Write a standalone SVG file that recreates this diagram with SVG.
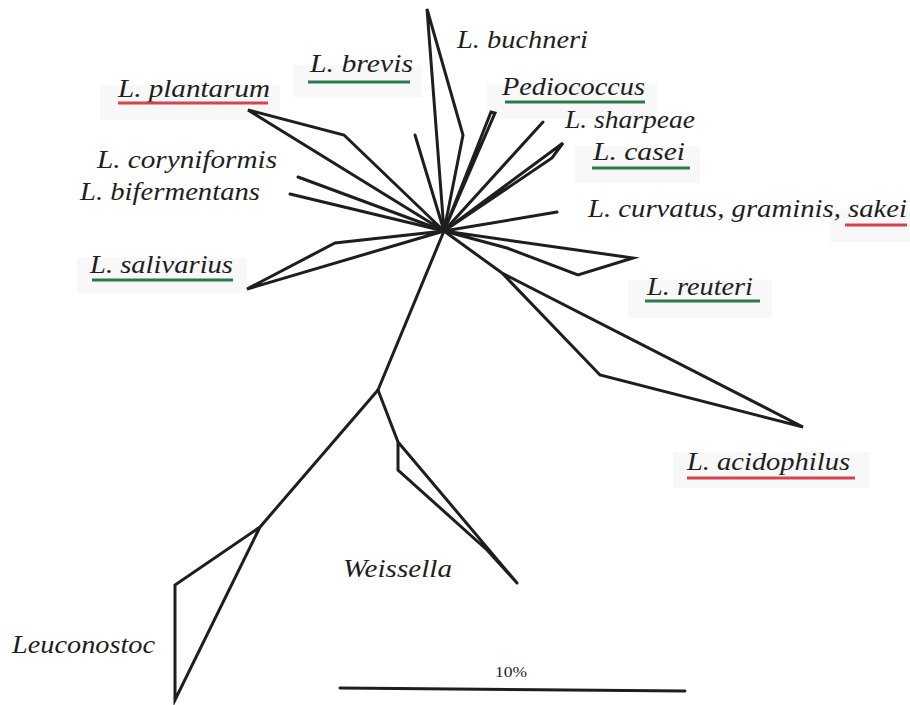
<svg xmlns="http://www.w3.org/2000/svg" width="910" height="705" viewBox="0 0 910 705">
<style>
.bg{fill:#f7f8f7;stroke:none}
.lbl{font-family:"Liberation Serif","Times New Roman",serif;font-style:italic;font-size:26px;fill:#1e1e1e}
.scale{font-family:"Liberation Serif","Times New Roman",serif;font-size:15px;fill:#1e1e1e}
.br{fill:none;stroke:#1e1e1e;stroke-width:3;stroke-linejoin:miter;stroke-miterlimit:6;stroke-linecap:round}
.ug{stroke:#2a7a4e;stroke-width:3}
.ur{stroke:#d8424d;stroke-width:3}
</style>
<rect width="910" height="705" fill="#ffffff"/>
<g id="highlights">
<rect class="bg" x="293" y="65" width="129" height="32"/>
<rect class="bg" x="100" y="85" width="180" height="35"/>
<rect class="bg" x="487" y="84" width="170" height="35"/>
<rect class="bg" x="575" y="146" width="125" height="37"/>
<rect class="bg" x="77" y="258" width="170" height="35"/>
<rect class="bg" x="830" y="210" width="80" height="32"/>
<rect class="bg" x="628" y="280" width="144" height="38"/>
<rect class="bg" x="673" y="452" width="197" height="36"/>
</g>
<g id="connectors">
<path class="br" d="M444,231 L427,9 L463,135 Z"/>
<path class="br" d="M444,231 L415,135"/>
<path class="br" d="M444,231 L491,112 L495,113 Z"/>
<path class="br" d="M444,231 L543,122"/>
<path class="br" d="M444,231 L563,143 L552,158 Z"/>
<path class="br" d="M444,231 L557,212"/>
<path class="br" d="M444,231 L633,258 L578,275 L507,248 Z"/>
<path class="br" d="M444,231 L502,273 L803,427 L600,375 L502,273"/>
<path class="br" d="M248,110 L344,135 L444,231 Z"/>
<path class="br" d="M298,177 L444,231"/>
<path class="br" d="M290,194 L444,231"/>
<path class="br" d="M247,289 L335,243 L444,231 Z"/>
<path class="br" d="M444,231 L378,390"/>
<path class="br" d="M378,390 L260,527 L175,585 L175,700 L260,527"/>
<path class="br" d="M378,390 L398,442 L517,583 M398,442 L398,470 L487,550 L517,583"/>
<path class="br" d="M340,688 L685,691"/>
</g>
<g id="n-buchneri"><text class="lbl" x="457" y="48" textLength="131" lengthAdjust="spacingAndGlyphs">L. buchneri</text></g>
<g id="n-brevis"><text class="lbl" x="310" y="72" textLength="103" lengthAdjust="spacingAndGlyphs">L. brevis</text><line class="ug" x1="308" y1="82" x2="410" y2="82"/></g>
<g id="n-plantarum"><text class="lbl" x="118" y="97" textLength="152" lengthAdjust="spacingAndGlyphs">L. plantarum</text><line class="ur" x1="118" y1="103" x2="268" y2="103"/></g>
<g id="n-pediococcus"><text class="lbl" x="502" y="95" textLength="143" lengthAdjust="spacingAndGlyphs">Pediococcus</text><line class="ug" x1="505" y1="102" x2="645" y2="102"/></g>
<g id="n-sharpeae"><text class="lbl" x="565" y="128" textLength="130" lengthAdjust="spacingAndGlyphs">L. sharpeae</text></g>
<g id="n-casei"><text class="lbl" x="593" y="160" textLength="92" lengthAdjust="spacingAndGlyphs">L. casei</text><line class="ug" x1="592" y1="168" x2="690" y2="168"/></g>
<g id="n-coryniformis"><text class="lbl" x="97" y="168" textLength="180" lengthAdjust="spacingAndGlyphs">L. coryniformis</text></g>
<g id="n-bifermentans"><text class="lbl" x="80" y="200" textLength="180" lengthAdjust="spacingAndGlyphs">L. bifermentans</text></g>
<g id="n-salivarius"><text class="lbl" x="90" y="273" textLength="143" lengthAdjust="spacingAndGlyphs">L. salivarius</text><line class="ug" x1="92" y1="280" x2="233" y2="280"/></g>
<g id="n-curvatus"><text class="lbl" x="588" y="217" textLength="319" lengthAdjust="spacingAndGlyphs">L. curvatus, graminis, sakei</text><line class="ur" x1="845" y1="225" x2="907" y2="225"/></g>
<g id="n-reuteri"><text class="lbl" x="647" y="295" textLength="106" lengthAdjust="spacingAndGlyphs">L. reuteri</text><line class="ug" x1="645" y1="301" x2="760" y2="301"/></g>
<g id="n-acidophilus"><text class="lbl" x="687" y="470" textLength="163" lengthAdjust="spacingAndGlyphs">L. acidophilus</text><line class="ur" x1="687" y1="478" x2="855" y2="478"/></g>
<g id="n-weissella"><text class="lbl" x="343" y="577" textLength="109" lengthAdjust="spacingAndGlyphs">Weissella</text></g>
<g id="n-leuconostoc"><text class="lbl" x="12" y="653" textLength="143" lengthAdjust="spacingAndGlyphs">Leuconostoc</text></g>
<g id="scale-bar"><text class="scale" x="495" y="677" textLength="32" lengthAdjust="spacingAndGlyphs">10%</text></g>
</svg>
